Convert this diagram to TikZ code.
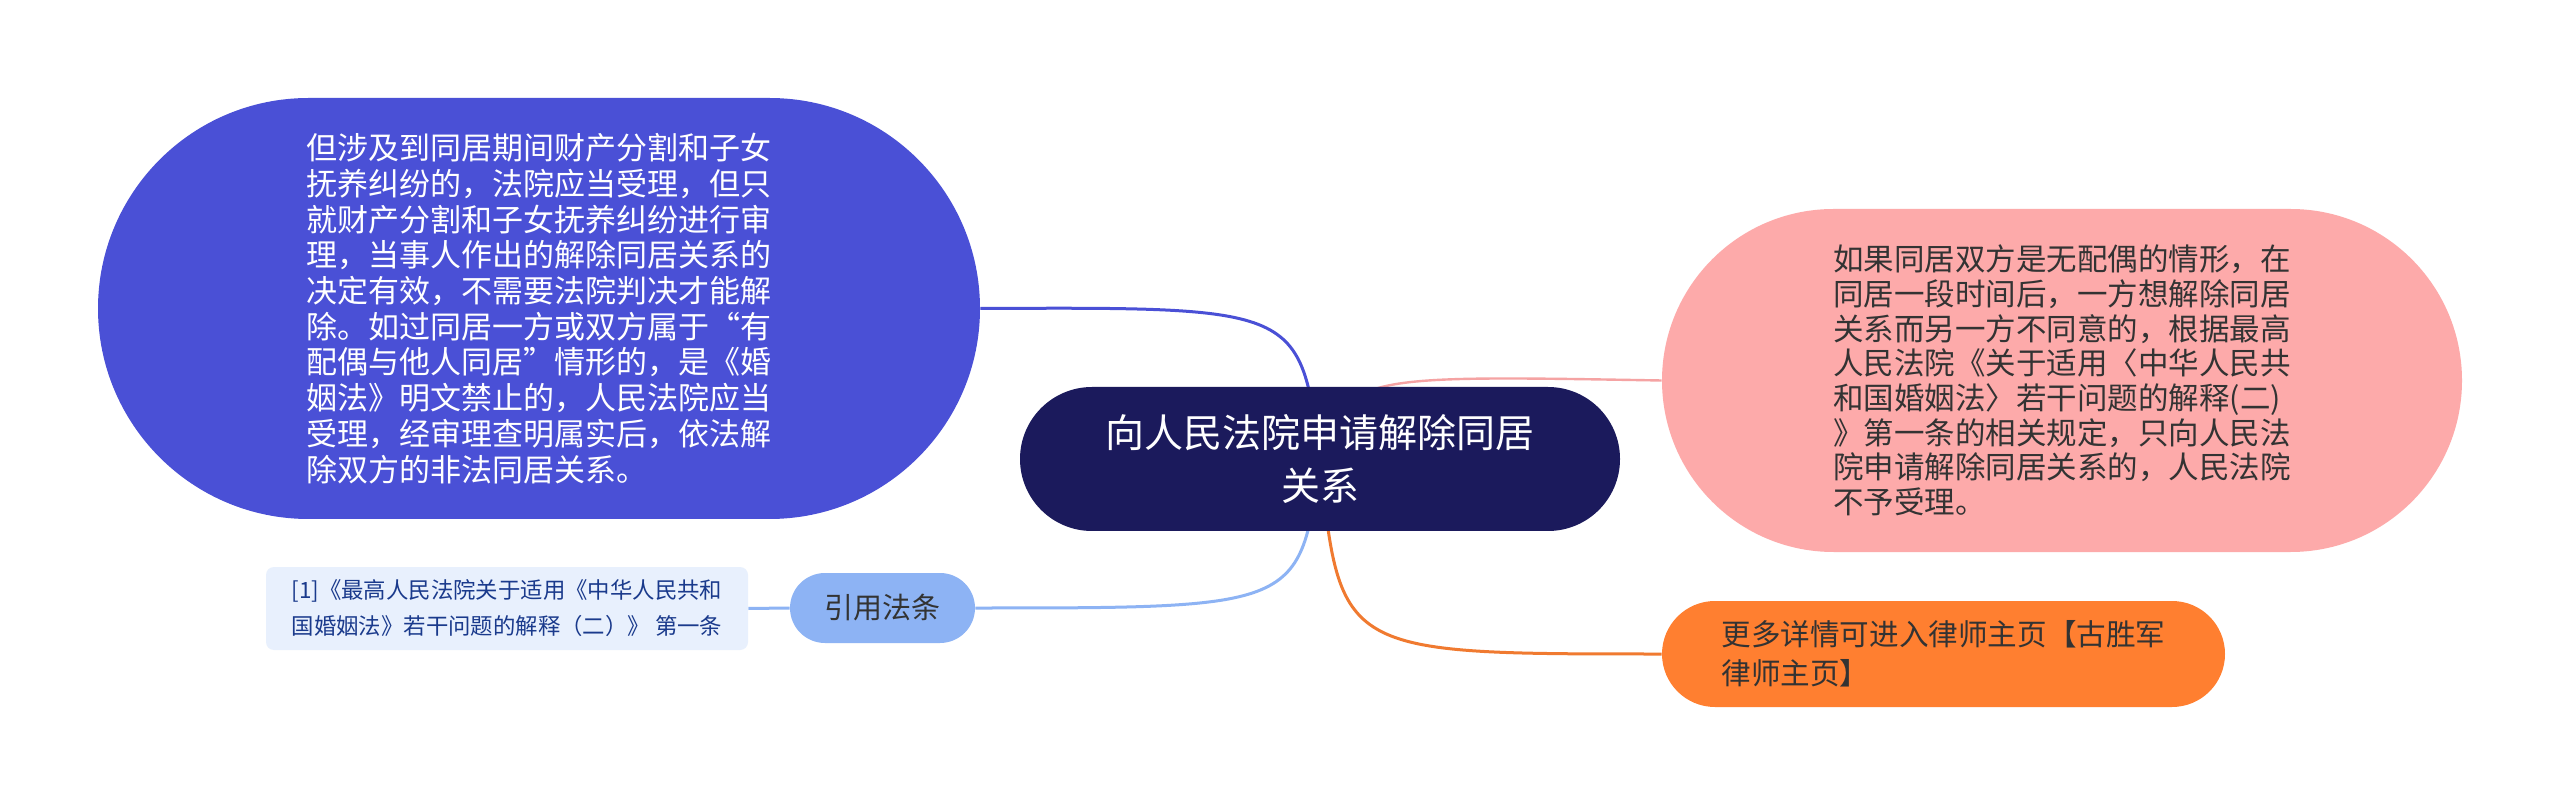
\documentclass[tikz,border=0pt]{standalone}
\usepackage{fontspec}
\setmainfont{Noto Sans CJK SC}
\usepackage{tikz}
\usetikzlibrary{positioning}
\usetikzlibrary{shapes.misc}
\usetikzlibrary{backgrounds}

\definecolor{rootfill}{HTML}{1B1A5C}
\definecolor{bluefill}{HTML}{4A50D6}
\definecolor{pinkfill}{HTML}{FDAAAA}
\definecolor{pinkline}{HTML}{F5A3A3}
\definecolor{orangefill}{HTML}{FF7F30}
\definecolor{orangeline}{HTML}{F07A30}
\definecolor{skyfill}{HTML}{8DB3F4}
\definecolor{notefill}{HTML}{E8F0FD}
\definecolor{notetext}{HTML}{1A3A8C}
\definecolor{darktext}{HTML}{333333}

\tikzset{
  branch/.style={draw=none,inner sep=0pt,align=left},
  pill/.style={rounded rectangle,draw=none,inner sep=0pt},
  link/.style={line width=1.5pt}
}

\begin{document}
\begin{tikzpicture}[x=0.5pt,y=-0.5pt]
\useasboundingbox (0,0) rectangle (2560,807);

\node[pill,fill=rootfill,text=white,align=center,minimum width=300pt,minimum height=72pt,font=\fontsize{19.5}{26.5}\selectfont] (root) at (1320,459) {向人民法院申请解除同居\\关系};

\node[pill,fill=bluefill,text=white,align=left,minimum width=441pt,minimum height=210.5pt,font=\fontsize{15.5}{17.85}\selectfont] (cohab) at (539,308.5) {但涉及到同居期间财产分割和子女\\抚养纠纷的，法院应当受理，但只\\就财产分割和子女抚养纠纷进行审\\理，当事人作出的解除同居关系的\\决定有效，不需要法院判决才能解\\除。如过同居一方或双方属于“有\\配偶与他人同居”情形的，是《婚\\姻法》明文禁止的，人民法院应当\\受理，经审理查明属实后，依法解\\除双方的非法同居关系。};

\node[pill,fill=pinkfill,text=darktext,align=left,minimum width=400pt,minimum height=171.5pt,font=\fontsize{15.25}{17.35}\selectfont] (nospouse) at (2062,380.5) {如果同居双方是无配偶的情形，在\\同居一段时间后，一方想解除同居\\关系而另一方不同意的，根据最高\\人民法院《关于适用〈中华人民共\\和国婚姻法〉若干问题的解释(二)\\》第一条的相关规定，只向人民法\\院申请解除同居关系的，人民法院\\不予受理。};

\node[pill,fill=skyfill,text=darktext,minimum width=92.5pt,minimum height=35pt,font=\fontsize{14.5}{17}\selectfont] (cite) at (882.5,608) {引用法条};

\node[branch,fill=notefill,text=notetext,rounded corners=4pt,minimum width=241pt,minimum height=41.5pt,font=\fontsize{11.2}{18}\selectfont] (law) at (507,608.5) {[1]《最高人民法院关于适用《中华人民共和\\国婚姻法》若干问题的解释（二）》 第一条};

\node[pill,fill=orangefill,text=darktext,align=left,minimum width=281.5pt,minimum height=53pt,font=\fontsize{14.8}{19.5}\selectfont] (more) at (1943.5,654) {更多详情可进入律师主页【古胜军\\律师主页】};

\begin{scope}[on background layer]
\fill[white] (0,0) rectangle (2560,807);
\draw[link,bluefill] (root.center) .. controls (1300,307) .. (cohab.east);
\draw[link,pinkline,line width=1.2pt] (root.center) .. controls (1350,375) .. (nospouse.west);
\draw[link,skyfill] (root.center) .. controls (1300,608) .. (cite.east);
\draw[link,orangeline] (root.center) .. controls (1340,654) .. (more.west);
\draw[link,skyfill] (cite.west) -- (law.east);
\end{scope}

\end{tikzpicture}
\end{document}
